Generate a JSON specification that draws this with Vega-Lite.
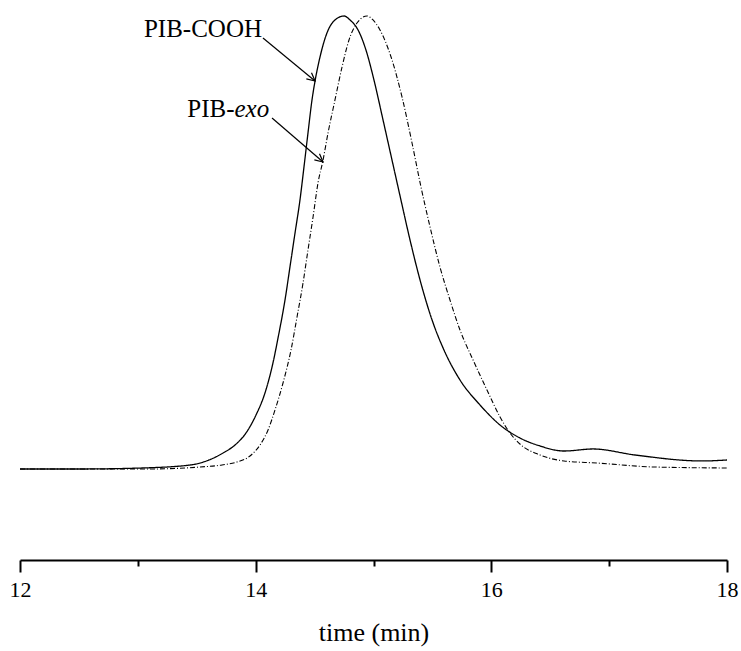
{
  "$schema": "https://vega.github.io/schema/vega-lite/v6.json",
  "width": 707,
  "height": 560,
  "autosize": "none",
  "padding": {"left": 20, "top": 0, "right": 14, "bottom": 91},
  "background": "white",
  "config": {"view": {"stroke": null}, "font": "Liberation Serif, Times New Roman, DejaVu Serif, serif"},
  "datasets": {
    "curves": [
      {"t": 12.0, "v": 0, "series": "PIB-COOH"},
      {"t": 12.509, "v": 0, "series": "PIB-COOH"},
      {"t": 13.035, "v": 0.22, "series": "PIB-COOH"},
      {"t": 13.443, "v": 0.88, "series": "PIB-COOH"},
      {"t": 13.604, "v": 1.99, "series": "PIB-COOH"},
      {"t": 13.723, "v": 3.53, "series": "PIB-COOH"},
      {"t": 13.825, "v": 5.3, "series": "PIB-COOH"},
      {"t": 13.918, "v": 7.95, "series": "PIB-COOH"},
      {"t": 14.003, "v": 11.92, "series": "PIB-COOH"},
      {"t": 14.079, "v": 16.78, "series": "PIB-COOH"},
      {"t": 14.139, "v": 22.52, "series": "PIB-COOH"},
      {"t": 14.198, "v": 30.02, "series": "PIB-COOH"},
      {"t": 14.249, "v": 37.31, "series": "PIB-COOH"},
      {"t": 14.291, "v": 44.59, "series": "PIB-COOH"},
      {"t": 14.334, "v": 52.1, "series": "PIB-COOH"},
      {"t": 14.376, "v": 59.38, "series": "PIB-COOH"},
      {"t": 14.41, "v": 66.67, "series": "PIB-COOH"},
      {"t": 14.444, "v": 74.17, "series": "PIB-COOH"},
      {"t": 14.478, "v": 81.46, "series": "PIB-COOH"},
      {"t": 14.504, "v": 85.65, "series": "PIB-COOH"},
      {"t": 14.546, "v": 90.95, "series": "PIB-COOH"},
      {"t": 14.605, "v": 96.25, "series": "PIB-COOH"},
      {"t": 14.673, "v": 99.12, "series": "PIB-COOH"},
      {"t": 14.75, "v": 100, "series": "PIB-COOH"},
      {"t": 14.801, "v": 99.12, "series": "PIB-COOH"},
      {"t": 14.869, "v": 96.91, "series": "PIB-COOH"},
      {"t": 14.936, "v": 92.49, "series": "PIB-COOH"},
      {"t": 15.004, "v": 85.87, "series": "PIB-COOH"},
      {"t": 15.081, "v": 77.04, "series": "PIB-COOH"},
      {"t": 15.157, "v": 68.21, "series": "PIB-COOH"},
      {"t": 15.233, "v": 59.38, "series": "PIB-COOH"},
      {"t": 15.31, "v": 50.55, "series": "PIB-COOH"},
      {"t": 15.395, "v": 41.72, "series": "PIB-COOH"},
      {"t": 15.497, "v": 32.89, "series": "PIB-COOH"},
      {"t": 15.598, "v": 26.27, "series": "PIB-COOH"},
      {"t": 15.734, "v": 19.65, "series": "PIB-COOH"},
      {"t": 15.904, "v": 14.13, "series": "PIB-COOH"},
      {"t": 16.074, "v": 9.71, "series": "PIB-COOH"},
      {"t": 16.243, "v": 6.84, "series": "PIB-COOH"},
      {"t": 16.413, "v": 5.08, "series": "PIB-COOH"},
      {"t": 16.617, "v": 3.97, "series": "PIB-COOH"},
      {"t": 16.863, "v": 4.42, "series": "PIB-COOH"},
      {"t": 17.219, "v": 3.09, "series": "PIB-COOH"},
      {"t": 17.788, "v": 1.77, "series": "PIB-COOH"},
      {"t": 18.0, "v": 1.99, "series": "PIB-COOH"},
      {"t": 12.0, "v": 0, "series": "PIB-exo"},
      {"t": 13.103, "v": 0, "series": "PIB-exo"},
      {"t": 13.528, "v": 0.44, "series": "PIB-exo"},
      {"t": 13.714, "v": 0.88, "series": "PIB-exo"},
      {"t": 13.842, "v": 1.55, "series": "PIB-exo"},
      {"t": 13.952, "v": 2.87, "series": "PIB-exo"},
      {"t": 14.037, "v": 5.3, "series": "PIB-exo"},
      {"t": 14.105, "v": 8.61, "series": "PIB-exo"},
      {"t": 14.164, "v": 13.02, "series": "PIB-exo"},
      {"t": 14.232, "v": 18.98, "series": "PIB-exo"},
      {"t": 14.3, "v": 26.27, "series": "PIB-exo"},
      {"t": 14.351, "v": 33.55, "series": "PIB-exo"},
      {"t": 14.402, "v": 41.06, "series": "PIB-exo"},
      {"t": 14.444, "v": 48.34, "series": "PIB-exo"},
      {"t": 14.487, "v": 55.63, "series": "PIB-exo"},
      {"t": 14.529, "v": 63.13, "series": "PIB-exo"},
      {"t": 14.572, "v": 68.21, "series": "PIB-exo"},
      {"t": 14.614, "v": 74.17, "series": "PIB-exo"},
      {"t": 14.673, "v": 81.46, "series": "PIB-exo"},
      {"t": 14.733, "v": 88.74, "series": "PIB-exo"},
      {"t": 14.792, "v": 94.7, "series": "PIB-exo"},
      {"t": 14.86, "v": 98.45, "series": "PIB-exo"},
      {"t": 14.945, "v": 100, "series": "PIB-exo"},
      {"t": 14.996, "v": 99.12, "series": "PIB-exo"},
      {"t": 15.055, "v": 96.91, "series": "PIB-exo"},
      {"t": 15.149, "v": 90.95, "series": "PIB-exo"},
      {"t": 15.242, "v": 82.12, "series": "PIB-exo"},
      {"t": 15.327, "v": 71.96, "series": "PIB-exo"},
      {"t": 15.403, "v": 62.25, "series": "PIB-exo"},
      {"t": 15.48, "v": 53.42, "series": "PIB-exo"},
      {"t": 15.564, "v": 44.59, "series": "PIB-exo"},
      {"t": 15.649, "v": 37.31, "series": "PIB-exo"},
      {"t": 15.734, "v": 30.68, "series": "PIB-exo"},
      {"t": 15.845, "v": 24.06, "series": "PIB-exo"},
      {"t": 15.963, "v": 17.44, "series": "PIB-exo"},
      {"t": 16.074, "v": 11.48, "series": "PIB-exo"},
      {"t": 16.158, "v": 7.95, "series": "PIB-exo"},
      {"t": 16.252, "v": 5.3, "series": "PIB-exo"},
      {"t": 16.413, "v": 3.09, "series": "PIB-exo"},
      {"t": 16.617, "v": 1.77, "series": "PIB-exo"},
      {"t": 16.897, "v": 1.32, "series": "PIB-exo"},
      {"t": 17.381, "v": 0.44, "series": "PIB-exo"},
      {"t": 18.0, "v": 0.22, "series": "PIB-exo"}
    ],
    "arrows": [
      {"series": "PIB-COOH", "t": 14.062, "v": 95.14, "t2": 14.504, "v2": 85.65},
      {"series": "PIB-exo", "t": 14.139, "v": 77.48, "t2": 14.572, "v2": 67.77}
    ],
    "labels": [
      {"text": "PIB-COOH", "t": 14.054, "v": 95.36, "part": "right"},
      {"text": "PIB-", "t": 13.82, "v": 77.7, "part": "right"},
      {"text": "exo", "t": 13.82, "v": 77.7, "part": "italic"}
    ]
  },
  "layer": [
    {
      "data": {"name": "curves"},
      "mark": {"type": "line", "interpolate": "monotone", "color": "black"},
      "encoding": {
        "x": {
          "field": "t", "type": "quantitative",
          "scale": {"domain": [12, 18], "nice": false, "zero": false},
          "axis": {
            "values": [12, 13, 14, 15, 16, 17, 18],
            "format": "d",
            "labelExpr": "datum.value % 2 === 0 ? datum.label : ''",
            "title": "time (min)",
            "grid": false,
            "domainColor": "black",
            "domainWidth": 2,
            "tickColor": "black",
            "tickWidth": 2,
            "tickSize": {"condition": {"test": "datum.value % 2 === 0", "value": 12}, "value": 6},
            "labelFont": "Liberation Serif, Times New Roman, DejaVu Serif, serif",
            "labelFontSize": 22,
            "labelColor": "black",
            "labelPadding": 7,
            "labelFlush": false,
            "labelOverlap": false,
            "titleFont": "Liberation Serif, Times New Roman, DejaVu Serif, serif",
            "titleFontSize": 26,
            "titleFontWeight": "normal",
            "titleColor": "black",
            "titlePadding": 19
          }
        },
        "y": {
          "field": "v", "type": "quantitative",
          "scale": {"domain": [-20.09, 103.53], "nice": false, "zero": false},
          "axis": null
        },
        "detail": {"field": "series"},
        "strokeDash": {
          "field": "series", "type": "nominal",
          "scale": {"domain": ["PIB-COOH", "PIB-exo"], "range": [[1, 0], [5, 2, 1, 2]]},
          "legend": null
        },
        "strokeWidth": {
          "field": "series", "type": "nominal",
          "scale": {"domain": ["PIB-COOH", "PIB-exo"], "range": [1.3, 1.1]},
          "legend": null
        }
      }
    },
    {
      "data": {"name": "arrows"},
      "mark": {"type": "rule", "color": "black", "strokeWidth": 1.2},
      "encoding": {
        "x": {"field": "t", "type": "quantitative"},
        "y": {"field": "v", "type": "quantitative"},
        "x2": {"field": "t2"},
        "y2": {"field": "v2"}
      }
    },
    {
      "data": {"name": "arrows"},
      "mark": {"type": "point", "shape": "M-1,-0.5L0,0L-1,0.5", "size": 256, "angle": 40, "filled": false, "color": "black", "strokeWidth": 1.2, "opacity": 1},
      "encoding": {
        "x": {"field": "t2", "type": "quantitative"},
        "y": {"field": "v2", "type": "quantitative"}
      }
    },
    {
      "data": {"name": "labels"},
      "transform": [{"filter": "datum.part === 'right'"}],
      "mark": {"type": "text", "align": "right", "baseline": "alphabetic", "font": "Liberation Serif, Times New Roman, DejaVu Serif, serif", "fontSize": 25, "color": "black"},
      "encoding": {
        "x": {"field": "t", "type": "quantitative"},
        "y": {"field": "v", "type": "quantitative"},
        "text": {"field": "text"}
      }
    },
    {
      "data": {"name": "labels"},
      "transform": [{"filter": "datum.part === 'italic'"}],
      "mark": {"type": "text", "align": "left", "baseline": "alphabetic", "font": "Liberation Serif, Times New Roman, DejaVu Serif, serif", "fontSize": 25, "fontStyle": "italic", "color": "black"},
      "encoding": {
        "x": {"field": "t", "type": "quantitative"},
        "y": {"field": "v", "type": "quantitative"},
        "text": {"field": "text"}
      }
    }
  ]
}
